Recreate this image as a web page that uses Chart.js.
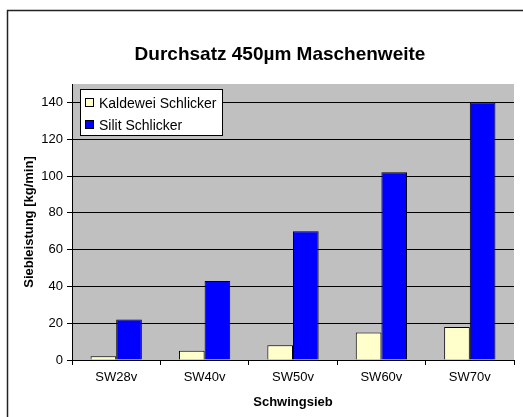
<!DOCTYPE html>
<html>
<head>
<meta charset="utf-8">
<script src="https://cdn.jsdelivr.net/npm/chart.js@4/dist/chart.umd.min.js"></script>
<style>
  html, body { margin: 0; padding: 0; background: #fff; overflow: hidden; }
  #wrap { position: relative; width: 523px; height: 417px; }
</style>
</head>
<body>
<div id="wrap"><canvas id="chart"></canvas></div>
<script>
const categories = ["SW28v", "SW40v", "SW50v", "SW60v", "SW70v"];
const kaldewei = [2, 5, 8, 15, 18];
const silit = [22, 43, 70, 102, 140];
const yTicks = [0, 20, 40, 60, 80, 100, 120, 140];

const FONT = "Arial, 'Liberation Sans', sans-serif";

// gray plot area, outer frame, title, legend box
const decor = {
  id: "decor",
  beforeDraw(chart) {
    const { ctx, chartArea: a } = chart;
    ctx.save();
    ctx.fillStyle = "#c0c0c0";
    ctx.fillRect(a.left, a.top, a.right - a.left, a.bottom - a.top);
    ctx.strokeStyle = "#222";
    ctx.lineWidth = 1.5;
    ctx.strokeRect(7.5, 10.5, 700, 700);
    ctx.fillStyle = "#000";
    ctx.font = "bold 19px " + FONT;
    ctx.textAlign = "center";
    ctx.textBaseline = "middle";
    ctx.fillText("Durchsatz 450\u00b5m Maschenweite", 280, 55);
    ctx.restore();
  },
  afterDraw(chart) {
    const { ctx, chartArea: a } = chart;
    const x = a.left + 8, y = a.top + 5, w = 142, h = 46;
    ctx.save();
    ctx.fillStyle = "#fff";
    ctx.fillRect(x, y, w, h);
    ctx.strokeStyle = "#000";
    ctx.lineWidth = 1;
    ctx.strokeRect(x + 0.5, y + 0.5, w, h);
    ctx.font = "14px " + FONT;
    ctx.textBaseline = "middle";
    chart.data.datasets.forEach((ds, i) => {
      const cy = y + 14 + i * 22;
      ctx.fillStyle = ds.backgroundColor;
      ctx.fillRect(x + 5.5, cy - 4.5, 8, 8);
      ctx.strokeStyle = "#000";
      ctx.strokeRect(x + 5.5, cy - 4.5, 8, 8);
      ctx.fillStyle = "#000";
      ctx.fillText(ds.label, x + 19, cy + 1);
    });
    ctx.restore();
  }
};

new Chart(document.getElementById("chart"), {
  type: "bar",
  data: {
    labels: categories,
    datasets: [
      { label: "Kaldewei Schlicker", data: kaldewei, backgroundColor: "#ffffcc", borderColor: "#000", borderWidth: 1 },
      { label: "Silit Schlicker", data: silit, backgroundColor: "#0000ff", borderColor: "#000", borderWidth: 1 }
    ]
  },
  options: {
    responsive: true,
    maintainAspectRatio: false,
    animation: false,
    layout: { padding: { left: 0, top: 84, right: 9, bottom: 0 } },
    datasets: { bar: { categoryPercentage: 0.58, barPercentage: 1 } },
    plugins: {
      legend: { display: false },
      title: { display: false },
      tooltip: { enabled: false }
    },
    scales: {
      x: {
        afterFit(s) { s.height = 57; },
        grid: { drawOnChartArea: false, drawTicks: true, tickLength: 5, color: "#000", offset: true },
        border: { color: "#000", width: 1 },
        ticks: { color: "#000", font: { family: FONT, size: 13 }, padding: 5 },
        title: { display: true, text: "Schwingsieb", color: "#000", font: { family: FONT, size: 13, weight: "bold" }, padding: { top: 0, bottom: 7 } }
      },
      y: {
        min: 0,
        max: 150,
        afterFit(s) { s.width = 72; },
        afterBuildTicks(s) { s.ticks = yTicks.map(v => ({ value: v })); },
        grid: { color: "#000", tickLength: 5, lineWidth: 1 },
        border: { color: "#000", width: 1 },
        ticks: { color: "#000", font: { family: FONT, size: 13 }, padding: 4 },
        title: { display: true, text: "Siebleistung [kg/min]", color: "#000", font: { family: FONT, size: 13, weight: "bold" }, padding: { top: 22, bottom: 0 } }
      }
    }
  },
  plugins: [decor]
});
</script>
</body>
</html>
